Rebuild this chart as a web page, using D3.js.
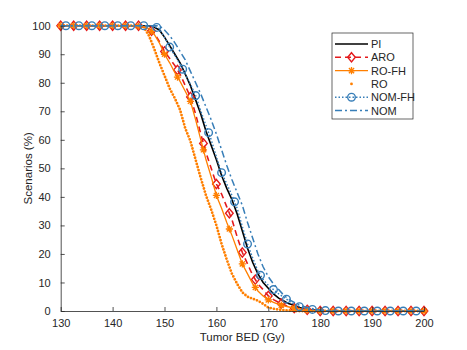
<!DOCTYPE html>
<html>
<head>
<meta charset="utf-8">
<script src="https://cdn.jsdelivr.net/npm/d3@7"></script>
<style>
  body { margin: 0; background: #fff; }
  svg text { font-family: "Liberation Sans", Arial, sans-serif; fill: #262626; }
</style>
</head>
<body>
<div id="chart"></div>
<script>
const bed = [130, 144, 145, 146, 147, 148, 149, 150, 151, 152, 153, 154, 155, 156, 157, 158, 159, 160,
  161, 162, 163, 164, 165, 166, 167, 168, 169, 170, 171, 172, 173, 174, 175, 176, 177, 178, 179, 180, 182, 200];

// percent of scenarios
const pi    = [100, 100, 100, 100, 100, 99.5, 98.5, 96, 93, 90, 87, 83, 79, 74, 69, 63, 58, 53,
  47.5, 43, 39, 34, 28, 22, 17, 13, 10, 8, 6, 4.5, 3.5, 2.5, 2, 1.2, 0.8, 0.5, 0.3, 0, 0, 0];
const aro   = [100, 100, 100, 99.5, 99, 97.5, 94.5, 91, 88.5, 86, 83, 79, 75, 69, 62, 55.5, 50, 44.5,
  41, 36.5, 32, 26, 20.5, 16.5, 12.5, 9.5, 7.5, 5.3, 4, 3, 2.2, 1.5, 1, 0.8, 0.5, 0.3, 0.2, 0, 0, 0];
const roFh  = [100, 100, 99.8, 99.5, 99, 97, 94, 90, 87, 83.5, 80.5, 77, 73.5, 67, 60, 53, 47, 40.5,
  36, 31, 26.5, 21.5, 16.5, 13, 9.5, 7, 5.3, 3.9, 3, 2.3, 1.8, 1.4, 1, 0.7, 0.4, 0.2, 0.1, 0, 0, 0];
const ro    = [100, 100, 100, 99.5, 96.5, 92, 87, 82.5, 78, 74.5, 70.5, 64, 59.5, 53, 46.5, 40.5, 35.5, 30,
  23.5, 18, 13, 9.5, 6.5, 5, 4.3, 3.6, 2.5, 1.2, 0.8, 0.5, 0.3, 0.2, 0, 0, 0, 0, 0, 0, 0, 0];
const nomFh = [100, 100, 100, 100, 100, 99.8, 99, 96, 92.5, 89.5, 86.5, 83, 79.5, 75.5, 70, 65, 60, 54,
  48.5, 44.5, 40.5, 36, 29.5, 23.5, 18.5, 14, 11, 9, 7.5, 6, 4.8, 3.5, 2.3, 1.5, 1, 0.7, 0.4, 0.3, 0, 0];
const nom   = [100, 100, 100, 100, 100, 100, 100, 98.5, 96.5, 94, 91, 88, 84, 80, 76, 71.5, 67, 62,
  56.5, 51, 46, 41.5, 37, 31, 25.5, 20, 15.5, 12, 9.5, 7.5, 5.5, 4, 3, 2, 1.5, 1, 0.6, 0.3, 0, 0];

// where the markers sit along the curves
const markAt = d3.range(130, 200.01, 2.5);
const markAtFh = d3.range(131, 200, 2.5);

const xTicks = [130, 140, 150, 160, 170, 180, 190, 200];
const yTicks = [0, 10, 20, 30, 40, 50, 60, 70, 80, 90, 100];

const red = "#e41a1c", orange = "#ff7f00", blue = "#377eb8";

const series = [
  { name: "PI",     vals: pi,    color: "#000", dash: null,         width: 1.6 },
  { name: "ARO",    vals: aro,   color: red,    dash: "6,4",        width: 1.6, marker: "diamond", at: markAt },
  { name: "RO-FH",  vals: roFh,  color: orange, dash: null,         width: 1.3, marker: "star",    at: markAt },
  { name: "RO",     vals: ro,    color: orange, dots: true,         width: 3 },
  { name: "NOM-FH", vals: nomFh, color: blue,   dash: "1.5,2",      width: 1.5, marker: "circle",  at: markAtFh },
  { name: "NOM",    vals: nom,   color: blue,   dash: "7,3,2,3",    width: 1.5 }
];

const width = 467, height = 350;
const svg = d3.select("#chart").append("svg")
  .attr("width", width).attr("height", height);

const x = d3.scaleLinear().domain([130, 200]).range([60.7, 424]);
const y = d3.scaleLinear().domain([0, 100]).range([311, 25.7]);

// value of a series at any dose, straight lines between read points
function valueAt(vals, d) {
  const i = d3.bisectRight(bed, d);
  if (i <= 0) return vals[0];
  if (i >= bed.length) return vals[vals.length - 1];
  const t = (d - bed[i - 1]) / (bed[i] - bed[i - 1]);
  return vals[i - 1] + t * (vals[i] - vals[i - 1]);
}

function drawMarker(g, type, color) {
  if (type === "diamond") {
    g.append("path").attr("d", "M0,-4.6L3.8,0L0,4.6L-3.8,0Z")
      .attr("fill", "none").attr("stroke", color).attr("stroke-width", 1.4);
  } else if (type === "circle") {
    g.append("circle").attr("r", 3.8)
      .attr("fill", "none").attr("stroke", color).attr("stroke-width", 1.4);
  } else if (type === "star") {
    g.append("path").attr("d", "M-3.6,0H3.6M0,-3.6V3.6M-2.6,-2.6L2.6,2.6M-2.6,2.6L2.6,-2.6")
      .attr("stroke", color).attr("stroke-width", 1.3);
  }
}

const line = d3.line().x((d, i) => x(bed[i])).y(d => y(d));
const plot = svg.append("g");

series.forEach(s => {
  const p = plot.append("path")
    .attr("d", line(s.vals))
    .attr("fill", "none")
    .attr("stroke", s.color)
    .attr("stroke-width", s.width);
  if (s.dots) {
    p.attr("stroke-dasharray", "0,3.2").attr("stroke-linecap", "round").attr("stroke-width", 2.8);
  } else if (s.dash) {
    p.attr("stroke-dasharray", s.dash);
  }
  if (s.marker) {
    s.at.forEach(d => {
      const g = plot.append("g")
        .attr("transform", `translate(${x(d)},${y(valueAt(s.vals, d))})`);
      drawMarker(g, s.marker, s.color);
    });
  }
});

// axes, MATLAB style: ticks inside, no box
const axisColor = "#262626";
const xAxis = svg.append("g").attr("transform", `translate(0,${y(0)})`)
  .call(d3.axisBottom(x).tickValues(xTicks).tickSize(-4).tickPadding(8).tickSizeOuter(0));
const yAxis = svg.append("g").attr("transform", `translate(${x(130)},0)`)
  .call(d3.axisLeft(y).tickValues(yTicks).tickSize(-4).tickPadding(10).tickSizeOuter(0));
[xAxis, yAxis].forEach(a => {
  a.selectAll("path, line").attr("stroke", axisColor).attr("stroke-width", 0.8);
  a.selectAll("text").style("font-size", "11px").attr("fill", axisColor)
    .style("font-family", "Liberation Sans, Arial, sans-serif");
});

svg.append("text").attr("x", x(165)).attr("y", 341)
  .attr("text-anchor", "middle").style("font-size", "11.5px").text("Tumor BED (Gy)");
svg.append("text").attr("transform", `translate(32,${y(50)}) rotate(-90)`)
  .attr("text-anchor", "middle").style("font-size", "11.5px").text("Scenarios (%)");

// legend
const lg = svg.append("g").attr("transform", "translate(332,33)");
lg.append("rect").attr("width", 81).attr("height", 86)
  .attr("fill", "#fff").attr("stroke", axisColor).attr("stroke-width", 0.7);
series.forEach((s, i) => {
  const ly = 11 + i * 13.3;
  if (s.dots) {
    lg.append("circle").attr("cx", 19.5).attr("cy", ly).attr("r", 1.4).attr("fill", s.color);
  } else {
    const l = lg.append("line").attr("x1", 3).attr("x2", 36).attr("y1", ly).attr("y2", ly)
      .attr("stroke", s.color).attr("stroke-width", s.width);
    if (s.dash) l.attr("stroke-dasharray", s.dash);
  }
  if (s.marker) {
    const g = lg.append("g").attr("transform", `translate(19.5,${ly})`);
    drawMarker(g, s.marker, s.color);
  }
  lg.append("text").attr("x", 39).attr("y", ly + 4)
    .style("font-size", "11px").text(s.name);
});
</script>
</body>
</html>
